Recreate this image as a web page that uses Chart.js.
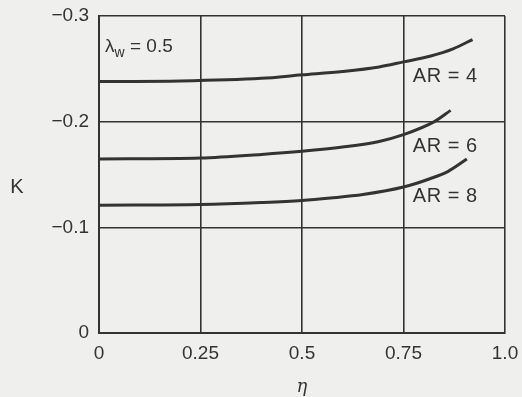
<!DOCTYPE html>
<html>
<head>
<meta charset="utf-8">
<script src="https://cdn.jsdelivr.net/npm/chart.js@4/dist/chart.umd.min.js"></script>
<style>
  html, body { margin: 0; padding: 0; background: #efefed; }
  #wrap { width: 522px; height: 397px; }
</style>
</head>
<body>
<div id="wrap"><canvas id="chart"></canvas></div>
<script>
// Values
const xTicks = [0, 0.25, 0.5, 0.75, 1.0];
const xTickLabels = ['0', '0.25', '0.5', '0.75', '1.0'];
const yTicks = [-0.3, -0.2, -0.1, 0];
const yTickLabels = ['\u22120.3', '\u22120.2', '\u22120.1', '0'];

const etaAR4 = [0, 0.2, 0.4, 0.5, 0.6, 0.69, 0.75, 0.815, 0.872, 0.92];
const kAR4 = [-0.238, -0.2385, -0.241, -0.2443, -0.2475, -0.2518, -0.2566, -0.2619, -0.2689, -0.2777];

const etaAR6 = [0, 0.25, 0.4, 0.5, 0.6, 0.69, 0.75, 0.826, 0.866];
const kAR6 = [-0.1647, -0.1656, -0.169, -0.172, -0.176, -0.1813, -0.1877, -0.200, -0.2107];

const etaAR8 = [0, 0.25, 0.4, 0.5, 0.57, 0.65, 0.75, 0.815, 0.86, 0.906];
const kAR8 = [-0.1209, -0.1216, -0.1235, -0.1254, -0.1277, -0.131, -0.1381, -0.146, -0.153, -0.1646];

const curveLabels = ['AR = 4', 'AR = 6', 'AR = 8'];

const INK = '#333';
const FONT = '"Liberation Sans", Arial, sans-serif';

const toPoints = (xs, ys) => xs.map((x, i) => ({ x: x, y: ys[i] }));

const makeSet = (label, xs, ys) => ({
    label: label,
    data: toPoints(xs, ys),
    borderColor: INK,
    borderWidth: 3,
    pointRadius: 0,
    cubicInterpolationMode: 'monotone',
    fill: false
});

// Plain text labels drawn in data space
const textPlugin = {
    id: 'textLabels',
    afterDraw(chart) {
        const ctx = chart.ctx;
        const xs = chart.scales.x;
        const ys = chart.scales.y;
        ctx.save();
        ctx.fillStyle = INK;
        ctx.font = '19px ' + FONT;
        ctx.textBaseline = 'middle';

        // lambda_w = 0.5
        let px = xs.getPixelForValue(0.015);
        let py = ys.getPixelForValue(-0.271);
        ctx.textAlign = 'left';
        ctx.fillText('\u03bb', px, py);
        let w = ctx.measureText('\u03bb').width;
        ctx.font = '14px ' + FONT;
        ctx.fillText('w', px + w, py + 6);
        w += ctx.measureText('w').width;
        ctx.font = '19px ' + FONT;
        ctx.fillText(' = 0.5', px + w, py);

        // AR labels
        ctx.font = '20px ' + FONT;
        ctx.letterSpacing = '0.5px';
        const arY = [-0.2427, -0.1763, -0.1289];
        curveLabels.forEach((t, i) => {
            ctx.fillText(t, xs.getPixelForValue(0.773), ys.getPixelForValue(arY[i]));
        });
        ctx.letterSpacing = '0px';

        // axis titles
        ctx.textAlign = 'center';
        ctx.font = '20px ' + FONT;
        ctx.fillText('K', 17, 187);
        ctx.font = 'italic 18px "DejaVu Serif", "Liberation Serif", serif';
        ctx.fillText('\u03b7', 302, 387);
        ctx.restore();
    }
};

const setup = () => {
    const ctx = document.getElementById('chart').getContext('2d');
    new Chart(ctx, {
        type: 'line',
        data: {
            datasets: [
                makeSet(curveLabels[0], etaAR4, kAR4),
                makeSet(curveLabels[1], etaAR6, kAR6),
                makeSet(curveLabels[2], etaAR8, kAR8)
            ]
        },
        options: {
            responsive: true,
            maintainAspectRatio: false,
            animation: false,
            layout: { padding: { top: 16, right: 17, left: 0, bottom: 0 } },
            plugins: {
                legend: { display: false },
                tooltip: { enabled: false }
            },
            scales: {
                x: {
                    type: 'linear',
                    min: 0,
                    max: 1,
                    afterBuildTicks: (scale) => { scale.ticks = xTicks.map(v => ({ value: v })); },
                    afterFit: (scale) => {
                        scale.height = 64;
                        scale.paddingLeft = 0;
                        scale.paddingRight = 0;
                    },
                    grid: { color: INK, lineWidth: 1.6, drawTicks: false },
                    border: { color: INK, width: 2 },
                    ticks: {
                        padding: 9,
                        color: INK,
                        font: { family: FONT, size: 19 },
                        callback: (v) => xTickLabels[xTicks.indexOf(v)]
                    }
                },
                y: {
                    type: 'linear',
                    min: -0.3,
                    max: 0,
                    reverse: true,
                    afterBuildTicks: (scale) => { scale.ticks = yTicks.map(v => ({ value: v })); },
                    afterFit: (scale) => {
                        scale.width = 99;
                        scale.paddingTop = 0;
                        scale.paddingBottom = 0;
                    },
                    grid: { color: INK, lineWidth: 1.6, drawTicks: false },
                    border: { color: INK, width: 2 },
                    ticks: {
                        padding: 10,
                        color: INK,
                        font: { family: FONT, size: 19 },
                        callback: (v) => yTickLabels[yTicks.indexOf(v)]
                    }
                }
            }
        },
        plugins: [textPlugin]
    });
};

document.addEventListener('DOMContentLoaded', setup);
</script>
</body>
</html>
